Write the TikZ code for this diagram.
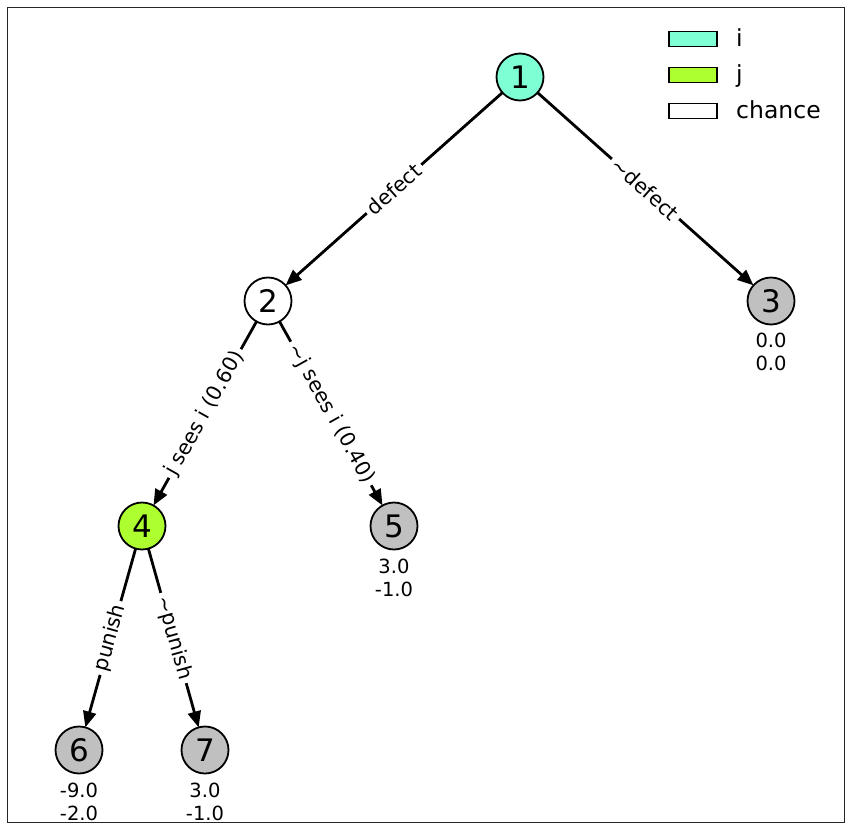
\documentclass[tikz,border=0pt]{standalone}
\usepackage{fontspec}
\setmainfont{DejaVu Sans}
\usetikzlibrary{arrows.meta}
\definecolor{playerI}{HTML}{7FFFD4}
\definecolor{playerJ}{HTML}{ADFF2F}
\definecolor{terminal}{HTML}{C0C0C0}
\begin{document}
\begin{tikzpicture}[x=1pt,y=-1pt,
  state/.style={circle, draw=black, line width=1.8pt, minimum size=47pt,
    inner sep=0pt, outer sep=0pt, font=\fontsize{31}{34}\selectfont},
  nodeI/.style={state, fill=playerI},
  nodeJ/.style={state, fill=playerJ},
  nodeChance/.style={state, fill=white},
  nodeEnd/.style={state, fill=terminal},
  move/.style={line width=2.8pt, -{Triangle[length=16pt,width=13pt]}},
  elabel/.style={sloped, fill=white, inner sep=4pt, pos=0.5,
    font=\fontsize{20.5}{24}\selectfont},
  payoff/.style={align=center, inner sep=0pt, font=\fontsize{19.5}{22.5}\selectfont},
  legendbox/.style={draw=black, line width=1.8pt, minimum width=48pt,
    minimum height=15pt, inner sep=0pt},
  legendtext/.style={anchor=west, inner sep=0pt, text height=0.75em, text depth=0.22em,
    font=\fontsize{23.5}{28}\selectfont},
]
\useasboundingbox (0,0) rectangle (851,830);
\draw[line width=1pt, black!85] (7,7) rectangle (844,822);

% game tree nodes
\node[nodeI] (n1) at (520,77) {1};
\node[nodeChance] (n2) at (268,301) {2};
\node[nodeEnd] (n3) at (771,301) {3};
\node[nodeJ] (n4) at (142,526) {4};
\node[nodeEnd] (n5) at (394,526) {5};
\node[nodeEnd] (n6) at (79,750) {6};
\node[nodeEnd] (n7) at (205,750) {7};

% payoffs under the leaves
\node[payoff] (p3) at (771,352) {0.0\\0.0};
\node[payoff] (p5) at (394,578) {3.0\\-1.0};
\node[payoff] (p6) at (79,802) {-9.0\\-2.0};
\node[payoff] (p7) at (205,802) {3.0\\-1.0};

% moves
\draw[move] (n1) -- node[elabel] {defect} (n2);
\draw[move] (n1) -- node[elabel] {\textasciitilde defect} (n3);
\draw[move] (n2) -- node[elabel] {j sees i (0.60)} (n4);
\draw[move] (n2) -- node[elabel] {\textasciitilde j sees i (0.40)} (n5);
\draw[move] (n4) -- node[elabel] {punish} (n6);
\draw[move] (n4) -- node[elabel] {\textasciitilde punish} (n7);

% legend
\node[legendbox, fill=playerI] (li) at (693,39) {};
\node[legendbox, fill=playerJ] (lj) at (693,75) {};
\node[legendbox, fill=white] (lc) at (693,111) {};
\node[legendtext] (ti) at (736,44) {i};
\node[legendtext] (tj) at (736,80) {j};
\node[legendtext] (tc) at (736,116) {chance};
\end{tikzpicture}
\end{document}
